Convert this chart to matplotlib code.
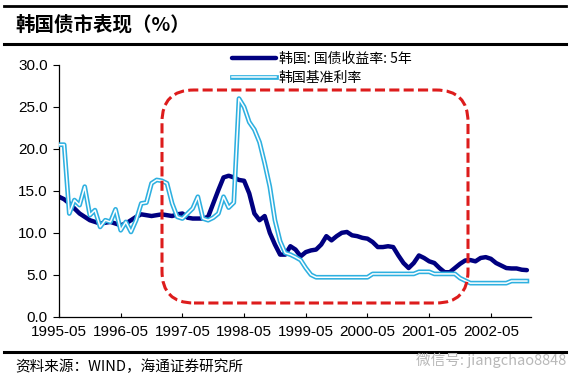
import numpy as np
import matplotlib
matplotlib.use("Agg")
from matplotlib import pyplot as plt
from matplotlib.patches import FancyBboxPatch
from matplotlib.lines import Line2D
import matplotlib.patheffects as pe

plt.rcParams['font.family'] = ['Liberation Sans', 'Noto Sans CJK SC', 'DejaVu Sans']

# monthly, 1995-05 .. 2002-12
yield_5y = [14.3, 14.0, 13.5, 12.9, 12.3, 11.9, 11.5, 11.3, 11.1, 11.2,
            11.3, 11.1, 10.9, 11.1, 11.5, 11.9, 12.2, 12.1, 12.0, 12.1,
            12.2, 12.1, 12.0, 12.2, 12.3, 11.8, 11.7, 11.7, 11.7, 11.9,
            13.5, 15.1, 16.6, 16.8, 16.6, 16.3, 16.2, 14.7, 12.3, 11.5,
            12.0, 10.0, 8.6, 7.4, 7.4, 8.4, 8.0, 7.2, 7.7, 7.9,
            8.0, 8.6, 9.6, 9.1, 9.6, 10.0, 10.1, 9.7, 9.6, 9.4,
            9.3, 8.9, 8.3, 8.3, 8.4, 8.3, 7.3, 6.4, 5.8, 6.4,
            7.3, 7.0, 6.6, 6.4, 5.8, 5.3, 5.3, 5.8, 6.3, 6.7,
            6.75, 6.6, 7.0, 7.1, 6.9, 6.4, 6.1, 5.8, 5.75, 5.75,
            5.6, 5.55]

base_rate = [20.5, 20.5, 12.3, 13.9, 13.3, 15.5, 12.1, 12.7, 10.7, 11.5,
             11.3, 12.8, 10.3, 11.3, 10.1, 11.5, 13.5, 13.6, 15.9, 16.3,
             16.2, 15.9, 13.5, 11.9, 11.7, 12.3, 12.9, 14.3, 11.7, 11.5,
             11.8, 12.3, 14.3, 13.0, 13.6, 26.0, 25.0, 23.2, 22.3, 20.8,
             18.3, 15.5, 11.5, 9.0, 7.6, 7.4, 7.1, 6.75, 5.8, 5.0,
             4.7, 4.7, 4.7, 4.7, 4.7, 4.7, 4.7, 4.7, 4.7, 4.7,
             4.7, 5.1, 5.1, 5.1, 5.1, 5.1, 5.1, 5.1, 5.1, 5.1,
             5.35, 5.35, 5.35, 5.1, 5.1, 5.1, 5.1, 5.1, 4.6, 4.3,
             4.0, 4.0, 4.0, 4.0, 4.0, 4.0, 4.0, 4.0, 4.25, 4.25,
             4.25, 4.25]

tick_labels = ['1995-05', '1996-05', '1997-05', '1998-05',
               '1999-05', '2000-05', '2001-05', '2002-05']
y_ticks = [0, 5, 10, 15, 20, 25, 30]

x = np.arange(len(yield_5y))

fig = plt.figure(figsize=(5.82, 3.86), dpi=100)
ax = fig.add_axes([59 / 582, 1 - 316.7 / 386, 472 / 582, (316.7 - 65) / 386])

ax.plot(x, yield_5y, color='#000080', lw=3.2, solid_capstyle='round',
        solid_joinstyle='round', label='韩国: 国债收益率: 5年', zorder=2)
ax.plot(x, base_rate, color='white', lw=1.1, label='韩国基准利率', zorder=3,
        path_effects=[pe.Stroke(linewidth=3.4, foreground='#2eb0e0'), pe.Normal()])

ax.set_xlim(0, 91.8)
ax.set_ylim(0, 30)
ax.set_xticks(np.arange(len(tick_labels)) * 12)
ax.set_xticklabels(tick_labels, fontsize=11)
ax.set_yticks(y_ticks)
ax.set_yticklabels([f'{v:.1f}' for v in y_ticks], fontsize=11)
ax.tick_params(axis='x', direction='in', length=3, pad=6)
ax.tick_params(axis='y', direction='out', length=4, pad=4)
for s in ['top', 'right']:
    ax.spines[s].set_visible(False)
for s in ['left', 'bottom']:
    ax.spines[s].set_linewidth(0.9)

leg = fig.legend(loc='upper left', bbox_to_anchor=(232 / 582, 1 - 52 / 386),
                 frameon=False, handlelength=3.2, handletextpad=0.15,
                 labelspacing=0.35, borderaxespad=0, borderpad=0,
                 prop={'family': ['Noto Sans CJK SC'], 'size': 10})

# red dashed rounded box
box = FancyBboxPatch((1.62, 0.83), 3.06, 2.13,
                     boxstyle='round,pad=0,rounding_size=0.32',
                     transform=fig.dpi_scale_trans, fill=False,
                     edgecolor='#dd1c1c', lw=2.2, linestyle=(0, (3.3, 1.4)),
                     zorder=5)
fig.patches.append(box)

# header / footer rules
for yy, lw in [(6, 2.0), (43.5, 2.2), (352, 2.2)]:
    fig.add_artist(Line2D([4 / 582, 566 / 582], [1 - yy / 386, 1 - yy / 386],
                          color='black', lw=lw, transform=fig.transFigure))

fig.text(15 / 582, 1 - 25 / 386, '韩国债市表现（%）', fontsize=14, fontweight='bold',
         family=['Noto Sans CJK SC'], va='center', ha='left')
fig.text(15 / 582, 1 - 367 / 386, '资料来源：WIND，海通证券研究所', fontsize=10.5,
         family=['Noto Sans CJK SC', 'Liberation Sans'], va='center', ha='left')
fig.text(566 / 582, 1 - 360 / 386, '微信号: jiangchao8848', fontsize=10.5,
         color='#b8b8b8', family=['Noto Sans CJK SC', 'Liberation Sans'],
         va='center', ha='right')

fig.savefig('out.png', dpi=100)
